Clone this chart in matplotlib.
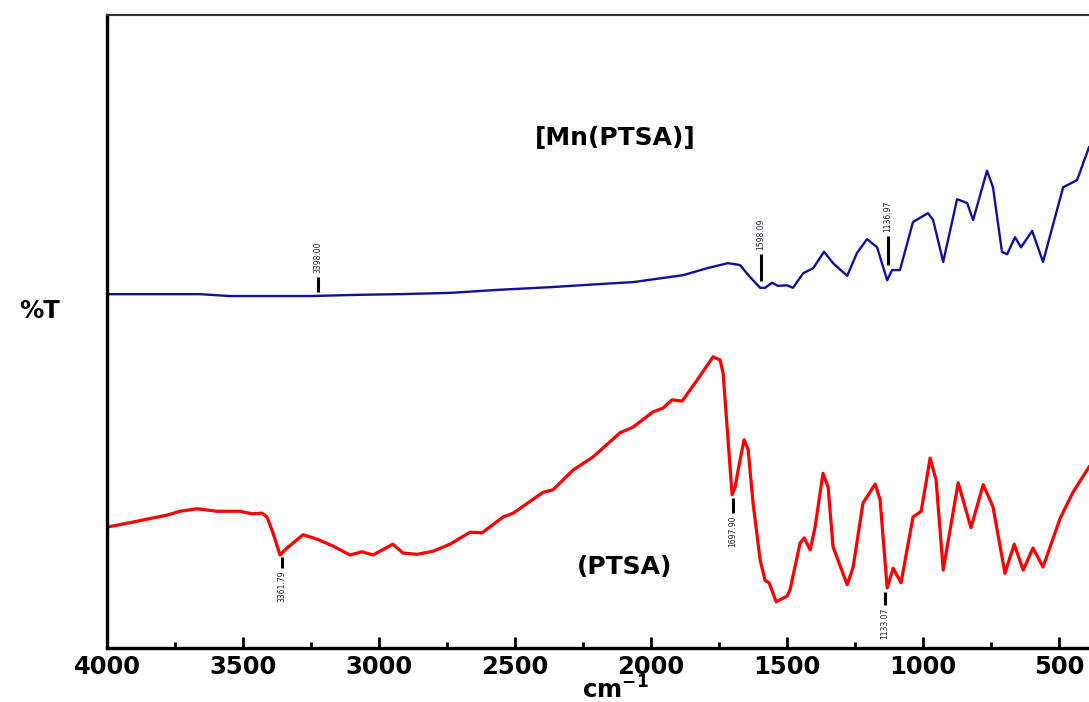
import matplotlib
matplotlib.use("Agg")
import matplotlib.pyplot as plt
from matplotlib.ticker import MultipleLocator

# ---- data ----
ptsa_wn = [4000, 3904, 3779, 3732, 3669, 3596, 3511, 3467, 3430, 3412, 3390, 3364, 3338,
           3279, 3228, 3169, 3107, 3063, 3022, 2949, 2912, 2860, 2801, 2739, 2665, 2621,
           2544, 2507, 2397, 2360, 2287, 2213, 2114, 2066, 1993, 1956, 1923, 1886, 1831,
           1772, 1746, 1735, 1717, 1702, 1691, 1680, 1658, 1643, 1625, 1599, 1581, 1566,
           1540, 1500, 1489, 1452, 1437, 1415, 1397, 1368, 1349, 1331, 1279, 1257, 1221,
           1176, 1158, 1132, 1110, 1081, 1037, 1007, 974, 952, 926, 871, 824, 779, 743,
           699, 665, 632, 596, 559, 496, 449, 390]
ptsa_t = [19.1, 19.9, 21.0, 21.6, 22.0, 21.6, 21.6, 21.2, 21.3, 20.7, 18.2, 14.7, 15.8,
          17.9, 17.2, 16.1, 14.7, 15.2, 14.7, 16.4, 15.0, 14.8, 15.3, 16.4, 18.3, 18.2,
          20.7, 21.3, 24.6, 25.0, 28.1, 30.2, 34.0, 34.9, 37.3, 37.9, 39.2, 39.0, 42.3,
          46.0, 45.5, 43.4, 32.9, 24.2, 25.4, 28.1, 32.9, 31.3, 22.9, 13.9, 10.7, 10.3,
          7.3, 8.2, 9.2, 16.6, 17.4, 15.5, 19.1, 27.6, 25.4, 16.0, 10.0, 12.8, 22.9,
          25.9, 23.4, 9.5, 12.6, 10.3, 20.7, 21.6, 30.0, 26.5, 12.3, 26.1, 19.0, 25.8, 22.3,
          11.8, 16.4, 12.3, 15.8, 12.8, 20.5, 24.6, 28.6]

mn_wn = [4000, 3658, 3548, 3254, 3070, 2923, 2739, 2555, 2371, 2187, 2066, 1882, 1794,
         1717, 1673, 1636, 1599, 1581, 1555, 1533, 1500, 1478, 1441, 1404, 1364, 1331,
         1279, 1243, 1206, 1169, 1132, 1114, 1085, 1037, 982, 963, 926, 875, 838, 816,
         765, 743, 710, 691, 662, 640, 599, 559, 485, 434, 390]
mn_t = [55.9, 55.9, 55.6, 55.6, 55.8, 55.9, 56.1, 56.6, 57.0, 57.5, 57.8, 58.9, 60.0,
        60.8, 60.5, 58.6, 56.9, 56.9, 57.7, 57.2, 57.3, 56.9, 59.2, 60.0, 62.6, 60.8,
        58.8, 62.4, 64.6, 63.3, 58.1, 59.7, 59.7, 67.3, 68.7, 67.6, 61.0, 70.9, 70.3, 67.6,
        75.4, 72.8, 62.6, 62.2, 64.9, 63.3, 65.9, 61.0, 72.8, 73.9, 79.1]

# peak markers: position, label, line start, line end
mn_peak_wn = [3226, 1596, 1129]
mn_peak_lbl = ["3398.00", "1598.09", "1136.97"]
mn_peak_lo = [56.2, 58.0, 60.5]
mn_peak_hi = [58.6, 62.2, 65.1]

ptsa_peak_wn = [3357, 1699, 1140]
ptsa_peak_lbl = ["3361.79", "1697.90", "1133.07"]
ptsa_peak_hi = [14.4, 23.7, 8.8]
ptsa_peak_lo = [12.6, 21.3, 6.8]

x_ticks = [4000, 3500, 3000, 2500, 2000, 1500, 1000, 500]

# ---- figure ----
W, H = 1089, 702
fig = plt.figure(figsize=(W / 100, H / 100), dpi=100)
ax = fig.add_axes([107 / W, (H - 648) / H, (W - 107) / W, (648 - 15) / H])

ax.plot(mn_wn, mn_t, color="#1010a0", lw=1.7, solid_joinstyle="round")
ax.plot(ptsa_wn, ptsa_t, color="#ff0000", lw=2.3, solid_joinstyle="round")

for w, l, lo, hi in zip(mn_peak_wn, mn_peak_lbl, mn_peak_lo, mn_peak_hi):
    ax.plot([w, w], [lo, hi], color="black", lw=2.2, solid_capstyle="butt")
    ax.text(w, hi + 0.6, l, rotation=90, ha="center", va="bottom",
            fontsize=5.5, color="#1a1a3a", family="DejaVu Sans")

for w, l, lo, hi in zip(ptsa_peak_wn, ptsa_peak_lbl, ptsa_peak_lo, ptsa_peak_hi):
    ax.plot([w, w], [lo, hi], color="black", lw=2.2, solid_capstyle="butt")
    ax.text(w, lo - 0.4, l, rotation=90, ha="center", va="top",
            fontsize=5.5, color="#1a1a3a", family="DejaVu Sans")

ax.text(2132, 80.5, "[Mn(PTSA)]", ha="center", va="center",
        fontsize=18, fontweight="bold", color="black")
ax.text(2096, 12.8, "(PTSA)", ha="center", va="center",
        fontsize=18, fontweight="bold", color="black")

ax.set_xlim(4000, 390)
ax.set_ylim(0, 100)
ax.set_xticks(x_ticks)
ax.set_xticklabels([str(t) for t in x_ticks])
ax.xaxis.set_minor_locator(MultipleLocator(250))
ax.set_yticks([])

ax.tick_params(axis="x", which="major", direction="in", length=8, width=2,
               labelsize=17.5, pad=5, color="black")
ax.tick_params(axis="x", which="minor", direction="in", length=4, width=2, color="black")
for lab in ax.get_xticklabels():
    lab.set_fontweight("bold")

ax.spines["right"].set_visible(False)
ax.spines["left"].set_linewidth(2.4)
ax.spines["bottom"].set_linewidth(2.4)
ax.spines["top"].set_linewidth(1.5)
ax.spines["top"].set_color("#333333")

fig.text(615 / W, 1 - 690 / H, "cm$^{\\mathbf{-1}}$", ha="center", va="center",
         fontsize=17.5, fontweight="bold")
fig.text(40 / W, 1 - 311 / H, "%T", ha="center", va="center",
         fontsize=17.5, fontweight="bold")

fig.savefig("out.png", dpi=100)
